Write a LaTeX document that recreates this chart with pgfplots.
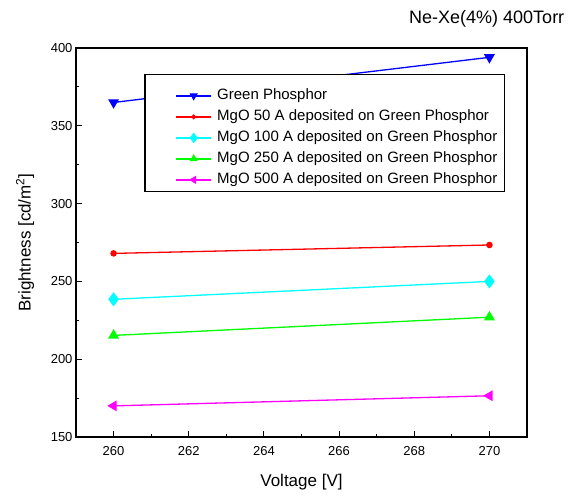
\documentclass[border=0pt]{standalone}
\usepackage{fontspec}
\setmainfont{Liberation Sans}
\usepackage{pgfplots}
\pgfplotsset{compat=1.18}
\usetikzlibrary{calc}
\definecolor{pblue}{RGB}{0,0,255}
\definecolor{pred}{RGB}{255,0,0}
\definecolor{pcyan}{RGB}{0,255,255}
\definecolor{pgreen}{RGB}{0,255,0}
\definecolor{pmagenta}{RGB}{255,0,255}

\begin{document}
\begin{tikzpicture}
\begin{axis}[
    name=ax,
    scale only axis,
    width=451pt, height=389pt,
    xmin=259, xmax=271,
    ymin=150, ymax=400,
    xtick={260,262,...,270},
    ytick={150,200,...,400},
    minor x tick num=1,
    minor y tick num=1,
    tick align=inside,
    tick pos=left,
    major tick length=6pt,
    minor tick length=3.5pt,
    axis line style={line width=1.3pt},
    every tick/.style={black, line width=1.1pt},
    /pgf/number format/assume math mode=true,
    /pgf/number format/1000 sep={},
    tick label style={font=\fontsize{13}{15}\selectfont},
    xticklabel style={yshift=-6pt},
    xlabel={Voltage [V]},
    ylabel={Brightness [cd/m\textsuperscript{2}]},
    label style={font=\fontsize{17}{20}\selectfont},
    x label style={at={(axis description cs:0.5,-0.116)}, anchor=center},
    y label style={at={(axis description cs:-0.113,0.5)}, anchor=center},
    legend style={at={(0.2195,0.896)}, anchor=north west, fill=none,
        draw=none, font=\fontsize{15}{17}\selectfont,
        inner sep=0pt, row sep=6pt,
        nodes={inner sep=0pt, text height=11pt, text depth=4pt},
        /tikz/every odd column/.append style={column sep=5pt}},
    legend cell align=left,
    legend image code/.code={
        \draw[mark repeat=2,mark phase=2,#1,line width=2pt]
            plot coordinates {(0pt,0.3pt) (17.5pt,0.3pt) (35pt,0.3pt)};
    },
    legend image post style={every mark/.append style={scale=0.75, line width=1pt}},
    every axis plot/.append style={line width=1.3pt},
]
\addplot[color=pblue, mark=triangle*, mark size=5pt, mark options={rotate=180, solid}]
    coordinates {(260,365) (270,394)};
\addlegendentry{Green Phosphor}
\addplot[color=pred, mark=*, mark size=2.6pt]
    coordinates {(260,268) (270,273.4)};
\addlegendentry{MgO 50 A deposited on Green Phosphor}
\addplot[color=pcyan, mark=diamond*, mark size=6pt]
    coordinates {(260,238.5) (270,250)};
\addlegendentry{MgO 100 A deposited on Green Phosphor}
\addplot[color=pgreen, mark=triangle*, mark size=5pt]
    coordinates {(260,215.3) (270,227)};
\addlegendentry{MgO 250 A deposited on Green Phosphor}
\addplot[color=pmagenta, mark=triangle*, mark size=5pt, mark options={rotate=90}]
    coordinates {(260,170) (270,176.5)};
\addlegendentry{MgO 500 A deposited on Green Phosphor}
% legend frame, drawn over the curves and under the legend entries
\draw[line width=1.1pt, fill=white] (rel axis cs:0.153,0.933) rectangle (rel axis cs:0.951,0.630);
\end{axis}
\node[anchor=west, inner sep=0pt, font=\fontsize{18}{21}\selectfont]
    at ($(ax.north west)+(333pt,29pt)$) {Ne-Xe(4\%) 400Torr};
\pgfresetboundingbox
\path[use as bounding box] ($(ax.south west)+(-76pt,-58pt)$) rectangle ($(ax.north east)+(50pt,48pt)$);
\end{tikzpicture}
\end{document}
